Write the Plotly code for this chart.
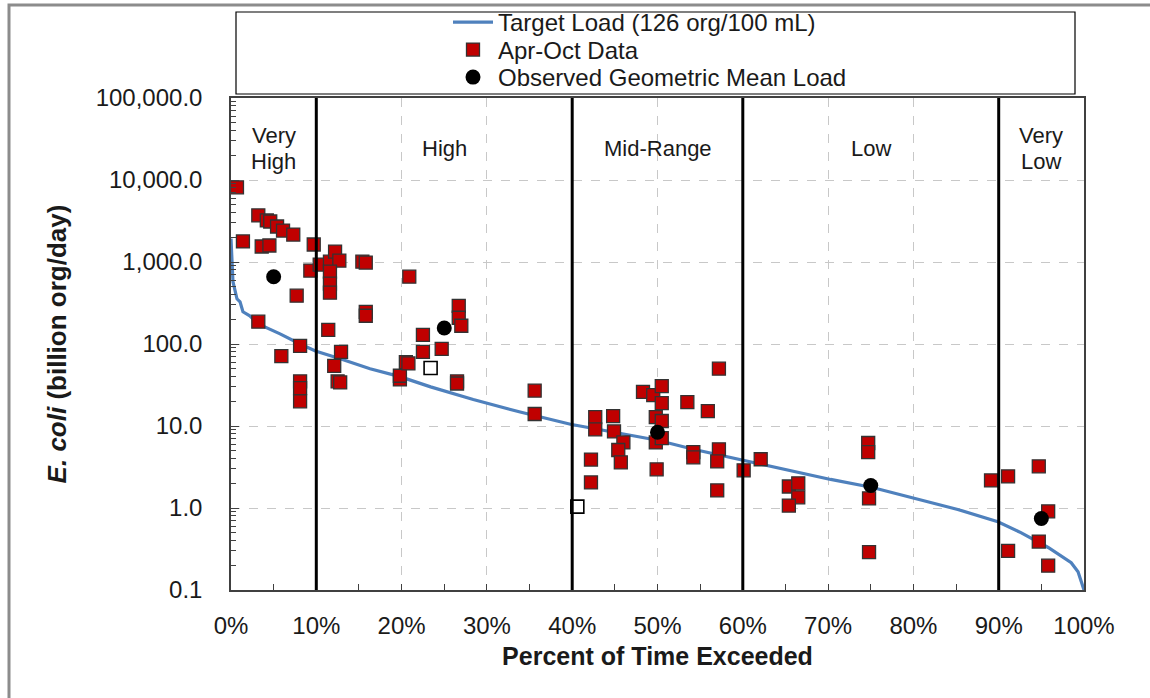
import plotly.graph_objects as go

# ---- data -------------------------------------------------------------
# Target load duration curve (126 org/100 mL), percent of time exceeded vs load
target_pct = [0.0, 0.23, 0.7, 1.06, 1.4, 2.2, 3.2, 5.75, 8.1, 9.9, 12.8, 16.3,
              19.8, 23.4, 28.4, 33.9, 39.8, 50.0, 54.2, 60.1, 70.3, 75.2, 80.0,
              85.2, 89.9, 92.6, 95.8, 98.5, 99.3, 100.0]
target_load = [1930, 575, 356, 327, 247, 221, 176, 133, 100, 82, 66, 50,
               40, 30, 21, 14.8, 10.5, 6.7, 5.2, 3.8, 2.23, 1.78, 1.31,
               0.96, 0.68, 0.50, 0.33, 0.215, 0.167, 0.10]

# Apr-Oct sample loads
data_pct = [0.7, 1.4, 3.2, 4.2, 4.6, 5.4, 6.1, 7.3, 3.6, 4.5, 9.7, 7.7, 3.2, 5.9,
            8.1, 8.1, 8.1, 8.1,
            9.3, 10.4, 11.6, 12.2, 12.7, 11.6, 11.6, 11.6, 15.4, 15.8, 15.8, 15.8,
            20.9, 11.4, 12.9, 12.1, 12.5, 12.8, 19.8, 19.8, 20.5, 20.8, 22.5, 22.5,
            24.7, 26.7, 26.7, 27.0, 26.5, 26.5,
            35.6, 35.6, 42.7, 42.7, 44.8, 44.9, 46.0, 45.4, 45.7, 42.2, 42.2, 48.3,
            49.5, 50.5, 50.5, 53.5, 55.9, 57.2, 49.8, 50.5, 49.8, 50.5, 49.9, 54.2,
            54.2, 57.2, 57.0, 57.0, 60.1, 62.1,
            65.4, 66.5, 66.5, 65.4, 74.7, 74.7, 74.8, 74.8,
            89.1, 91.1, 91.1, 94.7, 95.8, 94.7, 95.8]
data_load = [8140, 1780, 3700, 3210, 3120, 2710, 2420, 2160, 1545, 1590, 1635, 388,
             187, 71, 95, 35, 29, 20,
             785, 930, 1010, 1340, 1040, 765, 545, 422, 1010, 984, 247, 221,
             662, 149, 80, 54, 35, 34, 37, 41, 60, 58, 129, 80,
             87, 292, 209, 167, 35, 33,
             27, 14, 12.8, 9.1, 13.2, 8.6, 6.3, 5.1, 3.6, 3.9, 2.05, 26,
             23.8, 30.7, 19, 19.5, 15.2, 50, 12.8, 11.5, 6.3, 7.1, 2.96, 4.8,
             4.15, 5.2, 3.7, 1.64, 2.88, 3.93,
             1.83, 2.0, 1.35, 1.07, 6.2, 4.8, 1.31, 0.29,
             2.17, 2.43, 0.30, 3.22, 0.91, 0.39, 0.198]

# Samples drawn as open squares
open_pct = [23.4, 40.6]
open_load = [51, 1.04]

# Observed geometric mean load per flow zone
gm_pct = [5, 25, 50, 75, 95]
gm_load = [662, 157, 8.4, 1.88, 0.745]

# Flow zones
zone_bounds = [10, 40, 60, 90]
zone_centers = [5, 25, 50, 75, 95]
zone_labels = [["Very", "High"], ["High"], ["Mid-Range"], ["Low"], ["Very", "Low"]]

# Axis ticks
y_tickvals = [0.1, 1, 10, 100, 1000, 10000, 100000]
y_ticktext = ["0.1", "1.0", "10.0", "100.0", "1,000.0", "10,000.0", "100,000.0"]
x_tickvals = [0, 10, 20, 30, 40, 50, 60, 70, 80, 90, 100]
x_ticktext = [f"{v}%" for v in x_tickvals]

# ---- figure -----------------------------------------------------------
FONT = "Liberation Sans, Arial, sans-serif"
TXT = "#1a1a1a"

# plot area in pixels (used to convert layout positions to paper units)
PX_L, PX_R, PX_T, PX_B = 231, 1084, 98, 590


def px_x(px):
    return (px - PX_L) / (PX_R - PX_L)


def px_y(py):
    return (PX_B - py) / (PX_B - PX_T)


fig = go.Figure()

fig.add_trace(go.Scatter(
    x=target_pct, y=target_load, mode="lines",
    name="Target Load (126 org/100 mL)", legend="legend",
    line=dict(color="#4F81BD", width=3.2),
))
fig.add_trace(go.Scatter(
    x=data_pct, y=data_load, mode="markers", name="Apr-Oct Data", legend="legend2",
    marker=dict(symbol="square", size=13, color="#C00000",
                line=dict(color="#333333", width=1.3)),
))
fig.add_trace(go.Scatter(
    x=open_pct, y=open_load, mode="markers", showlegend=False,
    marker=dict(symbol="square", size=13, color="white",
                line=dict(color="black", width=1.6)),
))
fig.add_trace(go.Scatter(
    x=gm_pct, y=gm_load, mode="markers", name="Observed Geometric Mean Load",
    legend="legend3",
    marker=dict(symbol="circle", size=15, color="black"),
))

# flow-zone boundaries
for b in zone_bounds:
    fig.add_shape(type="line", xref="x", yref="paper", x0=b, x1=b, y0=0, y1=1,
                  line=dict(color="black", width=3), layer="above")

# zone labels (one annotation per text line)
line_gap = 26 / (PX_B - PX_T)
for cx, lines in zip(zone_centers, zone_labels):
    n = len(lines)
    for i, t in enumerate(lines):
        yc = px_y(148) + (n - 1) * line_gap / 2 - i * line_gap
        fig.add_annotation(x=cx, y=yc, xref="x", yref="paper", text=t,
                           showarrow=False, xanchor="center", yanchor="middle",
                           font=dict(family=FONT, size=22, color=TXT))

# legend box
fig.add_shape(type="rect", xref="paper", yref="paper",
              x0=px_x(236), x1=px_x(1075), y0=px_y(94), y1=px_y(12),
              line=dict(color="black", width=1.2), fillcolor="rgba(0,0,0,0)")

# outer chart frame
fig.add_shape(type="rect", xref="paper", yref="paper",
              x0=px_x(9), x1=px_x(1165), y0=px_y(720), y1=px_y(5),
              line=dict(color="#8c8c8c", width=3), fillcolor="rgba(0,0,0,0)")

axis_font = dict(family=FONT, size=24, color=TXT)


def legend_at(py_mid):
    return dict(
        x=px_x(448), xanchor="left", y=px_y(py_mid), yanchor="middle",
        font=dict(family=FONT, size=24, color=TXT),
        bgcolor="rgba(0,0,0,0)", borderwidth=0, itemwidth=40,
    )


fig.update_layout(
    width=1150, height=698,
    margin=dict(l=PX_L, r=1150 - PX_R, t=PX_T, b=698 - PX_B, pad=0,
                autoexpand=False),
    paper_bgcolor="white", plot_bgcolor="white",
    font=dict(family=FONT, color=TXT),
    showlegend=True,
    legend=legend_at(22.5),
    legend2=legend_at(50),
    legend3=legend_at(77.5),
    xaxis=dict(
        range=[0, 100], tickvals=x_tickvals, ticktext=x_ticktext,
        ticks="inside", ticklen=6, tickcolor="#404040",
        minor=dict(dtick=5, ticks="inside", ticklen=6, tickcolor="#404040", showgrid=False),
        showgrid=True, gridcolor="#c8c8c8", griddash="dash", gridwidth=1,
        showline=True, linecolor="#404040", linewidth=1.5, mirror=True,
        zeroline=False, tickfont=axis_font, ticklabelstandoff=13,
        title=dict(text="<b>Percent of Time Exceeded</b>",
                   font=dict(family=FONT, size=25, color=TXT), standoff=10),
    ),
    yaxis=dict(
        type="log", range=[-1, 5], tickvals=y_tickvals, ticktext=y_ticktext,
        ticks="inside", ticklen=8, tickcolor="#404040",
        minor=dict(ticks="inside", ticklen=5, tickcolor="#404040",
                   dtick="D1", showgrid=False),
        showgrid=True, gridcolor="#c8c8c8", griddash="dash", gridwidth=1,
        showline=True, linecolor="#404040", linewidth=1.5, mirror=True,
        zeroline=False, tickfont=axis_font, ticklabelstandoff=22,
        title=dict(text="<b><i>E. coli</i> (billion org/day)</b>",
                   font=dict(family=FONT, size=26, color=TXT), standoff=22),
    ),
)

fig.write_html("out.html")
